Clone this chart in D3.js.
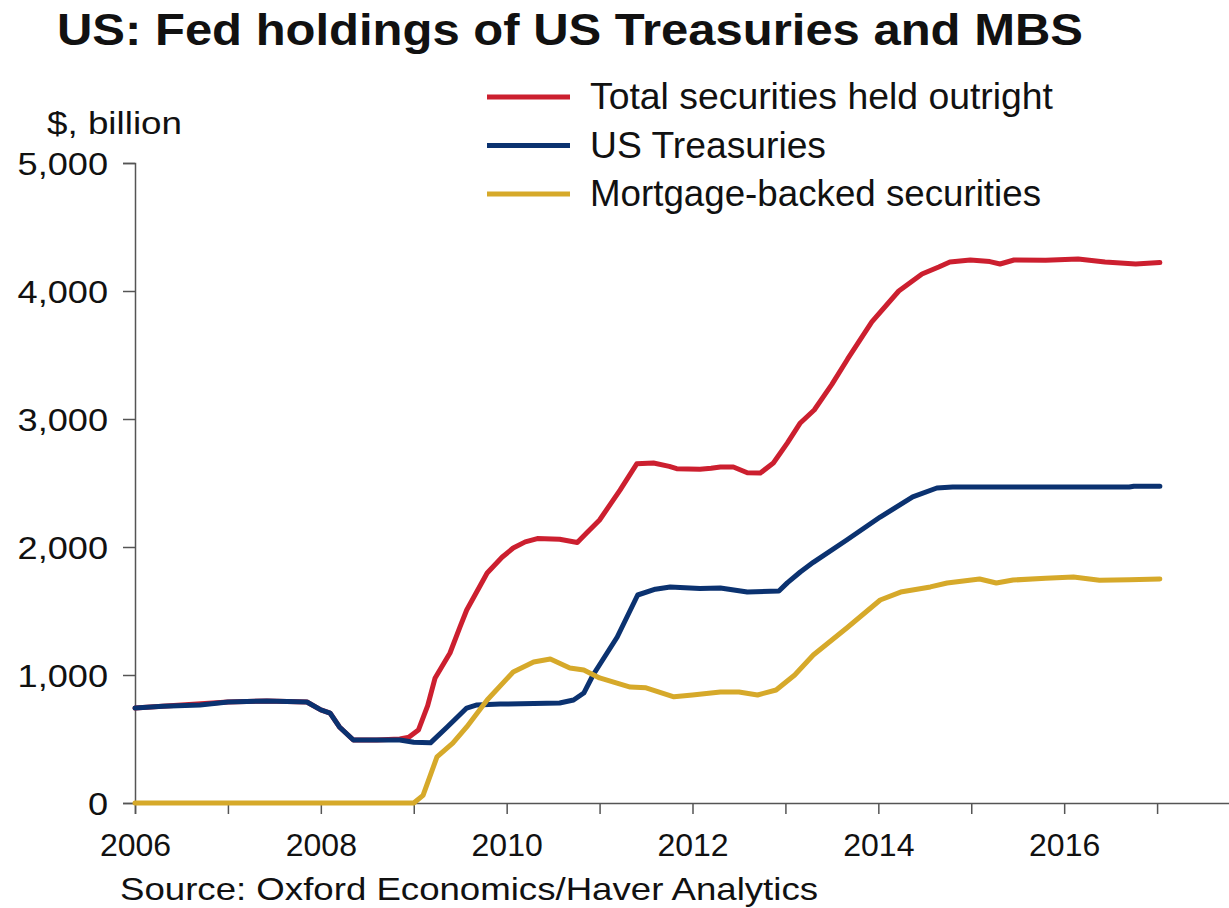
<!DOCTYPE html>
<html>
<head>
<meta charset="utf-8">
<script src="https://cdn.jsdelivr.net/npm/d3@7"></script>
<style>
  html, body { margin: 0; padding: 0; background: #fff; }
  svg { display: block; font-family: "Liberation Sans", Arial, sans-serif; }
</style>
</head>
<body>
<svg id="chart" width="1229" height="908"></svg>
<script>
// Fed holdings, $ billion, by decimal year
const totalDates = [2006.00, 2006.50, 2007.00, 2007.42, 2007.85, 2008.00, 2008.10, 2008.20, 2008.35, 2008.60,
  2008.85, 2008.95, 2009.05, 2009.15, 2009.23, 2009.39, 2009.50, 2009.57, 2009.79, 2009.95,
  2010.07, 2010.20, 2010.33, 2010.57, 2010.76, 2010.86, 2011.00, 2011.22, 2011.40, 2011.58,
  2011.75, 2011.83, 2012.08, 2012.20, 2012.30, 2012.44, 2012.59, 2012.73, 2012.87, 2013.02,
  2013.16, 2013.31, 2013.50, 2013.67, 2013.93, 2014.22, 2014.47, 2014.65, 2014.77, 2014.99,
  2015.20, 2015.31, 2015.46, 2015.80, 2016.15, 2016.44, 2016.77, 2017.03];
const totalValues = [742, 766, 789, 797, 789, 727, 703, 594, 492, 492,
  500, 515, 570, 760, 977, 1172, 1380, 1508, 1797, 1920,
  1992, 2040, 2066, 2060, 2035, 2109, 2211, 2445, 2650, 2656,
  2630, 2612, 2608, 2615, 2625, 2625, 2580, 2578, 2656, 2812,
  2969, 3070, 3270, 3469, 3758, 4000, 4133, 4188, 4227, 4242,
  4230, 4211, 4242, 4240, 4250, 4227, 4211, 4222];

const tsyDates = [2006.00, 2006.30, 2006.70, 2007.00, 2007.42, 2007.85, 2008.00, 2008.10, 2008.20, 2008.35,
  2008.85, 2009.00, 2009.18, 2009.36, 2009.57, 2009.68, 2009.93, 2010.57, 2010.72, 2010.83,
  2010.93, 2011.19, 2011.41, 2011.60, 2011.76, 2012.08, 2012.30, 2012.59, 2012.93, 2013.02,
  2013.16, 2013.30, 2013.66, 2014.02, 2014.37, 2014.63, 2014.80, 2016.70, 2016.75, 2017.03];
const tsyValues = [742, 755, 766, 789, 797, 789, 727, 703, 594, 492,
  492, 475, 470, 594, 742, 766, 773, 781, 805, 859,
  1000, 1297, 1625, 1670, 1688, 1675, 1680, 1648, 1656, 1720,
  1805, 1880, 2055, 2234, 2391, 2461, 2469, 2469, 2475, 2475];

const mbsDates = [2006.00, 2009.00, 2009.10, 2009.25, 2009.42, 2009.57, 2009.79, 2010.07, 2010.29, 2010.47,
  2010.68, 2010.83, 2011.00, 2011.33, 2011.50, 2011.80, 2012.00, 2012.30, 2012.50, 2012.70,
  2012.90, 2013.10, 2013.30, 2013.50, 2013.66, 2014.02, 2014.24, 2014.56, 2014.74, 2015.09,
  2015.27, 2015.45, 2015.80, 2016.10, 2016.38, 2016.70, 2017.03];
const mbsValues = [0, 0, 60, 360, 467, 594, 805, 1023, 1102, 1125,
  1055, 1039, 977, 906, 900, 830, 844, 867, 867, 844,
  883, 1000, 1156, 1273, 1367, 1586, 1648, 1688, 1719, 1750,
  1719, 1742, 1755, 1766, 1740, 1745, 1750];

const seriesNames = ["Total securities held outright", "US Treasuries", "Mortgage-backed securities"];
const seriesColors = ["#cc1f2f", "#0b3270", "#d6a92a"];
const yTicks = [0, 1000, 2000, 3000, 4000, 5000];
const yearTicks = [2006, 2007, 2008, 2009, 2010, 2011, 2012, 2013, 2014, 2015, 2016, 2017];
const yearLabels = [2006, 2008, 2010, 2012, 2014, 2016];

const svg = d3.select("#chart");

const x = d3.scaleLinear().domain([2006, 2018]).range([135, 1250]);
const y = d3.scaleLinear().domain([0, 5000]).range([803, 163]);

// Title (wide face, stretched to its full run)
svg.append("text")
  .attr("x", 57).attr("y", 45)
  .attr("font-size", 44).attr("font-weight", "bold").attr("fill", "#111")
  .attr("textLength", 1026).attr("lengthAdjust", "spacingAndGlyphs")
  .text("US: Fed holdings of US Treasuries and MBS");

// Unit label
svg.append("text")
  .attr("x", 47).attr("y", 134)
  .attr("font-size", 32).attr("fill", "#111")
  .attr("textLength", 135).attr("lengthAdjust", "spacingAndGlyphs")
  .text("$, billion");

// Y axis
const yAxis = d3.axisLeft(y).tickValues(yTicks).tickSize(12).tickPadding(15)
  .tickFormat(d3.format(","));
const gy = svg.append("g").attr("transform", "translate(135,0)").call(yAxis);
gy.select(".domain").attr("stroke", "#555").attr("stroke-width", 1.5);
gy.selectAll(".tick line").attr("stroke", "#555").attr("stroke-width", 1.5);
gy.selectAll(".tick text").attr("font-size", 32).attr("fill", "#111")
  .attr("font-family", "Liberation Sans, Arial, sans-serif").attr("dy", "0.36em")
  .each(function () {
    // slightly widened figures
    const w = this.getComputedTextLength();
    d3.select(this).attr("textLength", w * 1.13).attr("lengthAdjust", "spacingAndGlyphs");
  });

// X axis
const xAxis = d3.axisBottom(x).tickValues(yearTicks).tickSize(11).tickPadding(19)
  .tickFormat(d => yearLabels.includes(d) ? String(d) : "");
const gx = svg.append("g").attr("transform", "translate(0,803)").call(xAxis);
gx.select(".domain").attr("stroke", "#555").attr("stroke-width", 1.5);
gx.selectAll(".tick line").attr("stroke", "#555").attr("stroke-width", 1.5);
gx.selectAll(".tick text").attr("font-size", 32).attr("fill", "#111")
  .attr("font-family", "Liberation Sans, Arial, sans-serif");

// Series lines
const series = [
  { dates: totalDates, values: totalValues },
  { dates: tsyDates, values: tsyValues },
  { dates: mbsDates, values: mbsValues }
];
const line = d3.line().x(d => x(d[0])).y(d => y(d[1])).curve(d3.curveLinear);
series.forEach((s, i) => {
  const pts = s.dates.map((d, k) => [d, s.values[k]]);
  svg.append("path")
    .datum(pts)
    .attr("d", line)
    .attr("fill", "none")
    .attr("stroke", seriesColors[i])
    .attr("stroke-width", 5)
    .attr("stroke-linejoin", "round")
    .attr("stroke-linecap", "round");
});

// Legend
const legendWidths = [463, 236, 451];
const legend = svg.append("g");
seriesNames.forEach((name, i) => {
  const ly = 97 + i * 48.5;
  legend.append("line")
    .attr("x1", 487).attr("x2", 570).attr("y1", ly).attr("y2", ly)
    .attr("stroke", seriesColors[i]).attr("stroke-width", 5);
  legend.append("text")
    .attr("x", 590).attr("y", ly + 12)
    .attr("font-size", 36).attr("fill", "#111")
    .attr("textLength", legendWidths[i]).attr("lengthAdjust", "spacingAndGlyphs")
    .text(name);
});

// Source note
svg.append("text")
  .attr("x", 120).attr("y", 900)
  .attr("font-size", 32).attr("fill", "#111")
  .attr("textLength", 698).attr("lengthAdjust", "spacingAndGlyphs")
  .text("Source: Oxford Economics/Haver Analytics");
</script>
</body>
</html>
